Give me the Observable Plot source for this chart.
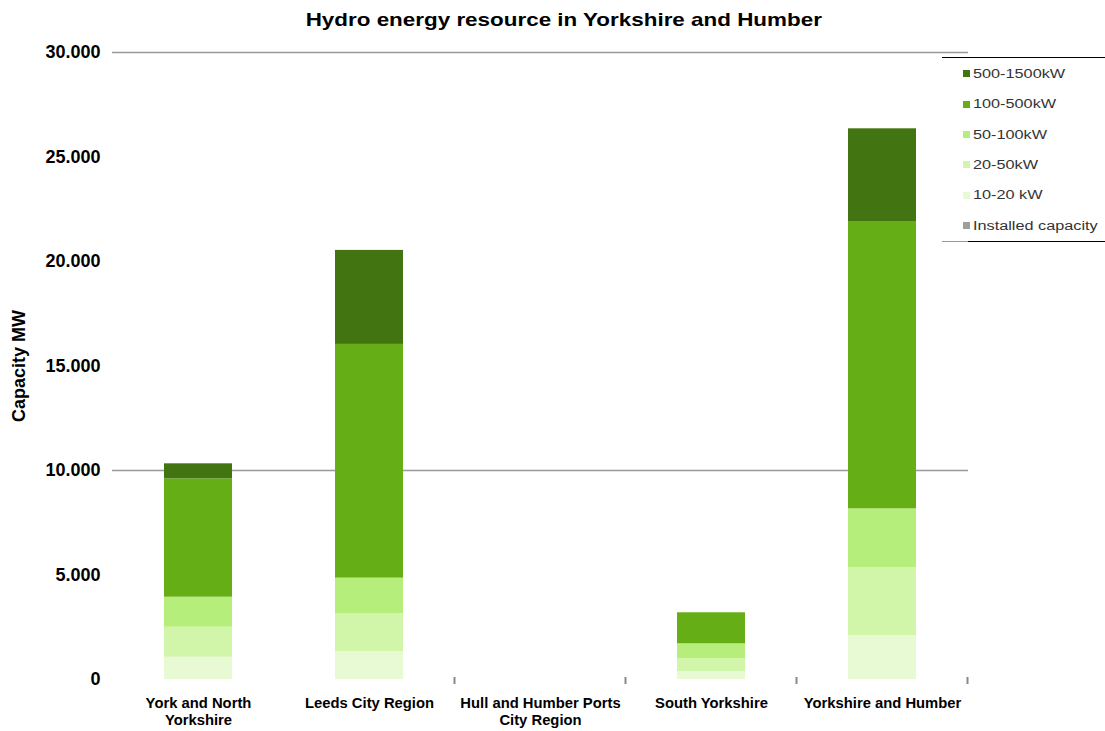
<!DOCTYPE html>
<html>
<head>
<meta charset="utf-8">
<script src="https://cdn.jsdelivr.net/npm/d3@7"></script>
<script src="https://cdn.jsdelivr.net/npm/@observablehq/plot@0.6"></script>
<style>
  body { margin: 0; background: #fff; font-family: "Liberation Sans", Arial, sans-serif; }
  #wrap { position: relative; width: 1105px; height: 731px; overflow: hidden; background: #fff; }
  #title { position: absolute; left: 0; top: 0; width: 1128px; height: 40px; line-height: 40px;
           text-align: center; font-weight: bold; font-size: 19px; color: #000; }
  #title span { display: inline-block; transform: scaleX(1.18); transform-origin: center; }
  #chart { position: absolute; left: 0; top: 40px; }
  #legend { position: absolute; left: 942px; top: 57px; width: 163px; }
  #legend .top { position: absolute; left: 0; top: 0; width: 163px; height: 0; border-top: 1.5px solid #000; }
  #legend .bot1 { position: absolute; left: 0; top: 184px; width: 26px; height: 0; border-top: 1.5px solid #999; }
  #legend .bot2 { position: absolute; left: 26px; top: 184px; width: 137px; height: 0; border-top: 1.5px solid #000; }
  #legend .items { position: absolute; left: 21px; top: 2px; }
  #legend .row { height: 30.33px; line-height: 30.33px; white-space: nowrap; font-size: 12.5px; color: #333; }
  #legend .sw { display: inline-block; width: 7px; height: 7px; margin-right: 3px; vertical-align: middle; position: relative; top: -1px; }
  #legend .lab { display: inline-block; transform: scaleX(1.3); transform-origin: left center; }
</style>
</head>
<body>
<div id="wrap">
  <div id="title"><span>Hydro energy resource in Yorkshire and Humber</span></div>
  <div id="chart"></div>
  <div id="legend">
    <div class="top"></div>
    <div class="items"></div>
    <div class="bot1"></div>
    <div class="bot2"></div>
  </div>
</div>
<script>
// ---- data ----
const categories = [
  "York and North Yorkshire",
  "Leeds City Region",
  "Hull and Humber Ports City Region",
  "South Yorkshire",
  "Yorkshire and Humber"
];
const xLabels = [
  "York and North\nYorkshire",
  "Leeds City Region",
  "Hull and Humber Ports\nCity Region",
  "South Yorkshire",
  "Yorkshire and Humber"
];
// stacked from bottom to top
const seriesNames = ["10-20 kW", "20-50kW", "50-100kW", "100-500kW", "500-1500kW", "Installed capacity"];
const s10_20     = [1067, 1340, 0, 383, 2105];
const s20_50     = [1435, 1804, 0, 608, 3254];
const s50_100    = [1435, 1707, 0, 718, 2809];
const s100_500   = [5665, 11182, 0, 1483, 13746];
const s500_1500  = [718, 4498, 0, 0, 4435];
const sInstalled = [0, 0, 0, 0, 0];
const seriesColors = ["#E8FAD4", "#D1F5A9", "#B5EE7A", "#66AE16", "#427511", "#A19D99"];
const legendOrder = ["500-1500kW", "100-500kW", "50-100kW", "20-50kW", "10-20 kW", "Installed capacity"];
const yTicks = [0, 5000, 10000, 15000, 20000, 25000, 30000];
const gridValues = [10000, 30000];
const yLabel = "Capacity MW";

const seriesValues = [s10_20, s20_50, s50_100, s100_500, s500_1500, sInstalled];
const table = [];
categories.forEach((c, i) => {
  seriesNames.forEach((s, j) => table.push({category: c, series: s, value: seriesValues[j][i]}));
});

const fmt = d3.formatLocale({decimal: ",", thousands: ".", grouping: [3], currency: ["", ""]}).format(",");

const plot = Plot.plot({
  width: 1105,
  height: 691,
  marginTop: 12,
  marginBottom: 52,
  marginLeft: 112,
  marginRight: 137,
  style: {fontFamily: "'Liberation Sans', Arial, sans-serif", fontSize: "18px", fontWeight: "bold", color: "#000", background: "#fff", overflow: "visible"},
  x: {domain: categories, paddingInner: 0.6, paddingOuter: 0.3, axis: null},
  y: {domain: [0, 30000], ticks: yTicks, tickSize: 0, tickPadding: 12, tickFormat: fmt, label: null},
  color: {domain: seriesNames, range: seriesColors},
  marks: [
    Plot.ruleY(gridValues, {stroke: "#999", strokeWidth: 1.3}),
    Plot.barY(table, {x: "category", y: "value", fill: "series"}),
    Plot.text(categories, {x: d => d, text: (d, i) => xLabels[i], frameAnchor: "bottom", lineAnchor: "top",
                           dy: 16, fontSize: 14.8, fontWeight: "bold", lineHeight: 1.15, fill: "#000"}),
    Plot.text([yLabel], {frameAnchor: "left", textAnchor: "middle", rotate: -90, dx: -93,
                         fontSize: 18, fontWeight: "bold", fill: "#000"})
  ]
});
document.getElementById("chart").appendChild(plot);

// small tick marks between category bands, from the library's own scales
const xs = plot.scale("x"), ys = plot.scale("y");
const step = xs.apply(categories[1]) - xs.apply(categories[0]);
const y0 = ys.apply(0);
const tg = d3.select(plot).append("g");
categories.forEach((c, i) => {
  if (i < 1) return;
  const bx = xs.apply(c) + xs.bandwidth + (step - xs.bandwidth) / 2;
  tg.append("line").attr("x1", bx).attr("x2", bx).attr("y1", y0 - 2).attr("y2", y0 + 5)
    .attr("stroke", "#888").attr("stroke-width", 2);
});

// legend
const items = d3.select("#legend .items");
legendOrder.forEach(name => {
  const row = items.append("div").attr("class", "row");
  row.append("span").attr("class", "sw").style("background", seriesColors[seriesNames.indexOf(name)]);
  row.append("span").attr("class", "lab").text(name);
});
</script>
</body>
</html>
